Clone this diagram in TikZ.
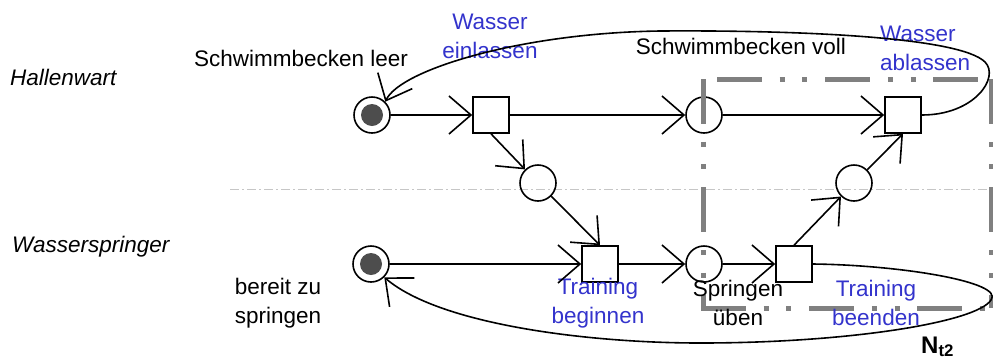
\documentclass[tikz,border=0pt]{standalone}
\usepackage{fontspec}
\setmainfont{Liberation Sans}
\usetikzlibrary{arrows.meta}
\definecolor{lblblue}{RGB}{51,51,204}
\definecolor{boxgray}{RGB}{128,128,128}
\definecolor{tokgray}{RGB}{77,77,77}
\begin{document}
\begin{tikzpicture}[x=1pt,y=-1pt,
  place/.style={circle,draw,line width=1.6pt,minimum size=36pt,inner sep=0pt},
  trans/.style={rectangle,draw,line width=1.6pt,minimum size=36pt,inner sep=0pt},
  arc/.style={line width=1.6pt,-{Straight Barb[length=22pt,width=38pt,line width=1.6pt]}},
  lbl/.style={font=\fontsize{22.5}{29}\selectfont,align=center,inner sep=0pt},
  bl/.style={lbl,text=lblblue},
  role/.style={font=\fontsize{22.5}{29}\selectfont\itshape,inner sep=0pt,anchor=west},
  token/.style={fill=tokgray},
  region/.style={boxgray,line width=5pt,dash pattern=on 45pt off 17.7pt on 5pt off 17.7pt on 5pt off 17.7pt}]
\useasboundingbox (0,0) rectangle (993,360);
\draw[gray!45,line width=0.8pt,dash pattern=on 9pt off 3pt on 2pt off 3pt] (230,189) -- (993,189);
% places and transitions
\node[place] (p1) at (372,115) {};
\node[trans] (t1) at (491,115) {};
\node[place] (pm1) at (538,183) {};
\node[place] (p2) at (704,115) {};
\node[trans] (t4) at (903,115) {};
\node[place] (pm2) at (854,183) {};
\node[place] (p3) at (371,264) {};
\node[trans] (t2) at (600,264) {};
\node[place] (p4) at (704,264) {};
\node[trans] (t3) at (794,264) {};
\fill[token] (p1.center) circle [radius=11];
\fill[token] (p3.center) circle [radius=11];
% region
\draw[region] (703,79) -- (703,308);
\draw[region] (701,308) -- (991,308);
\draw[region] (717,79) -- (991,79);
\draw[region] (991,79) -- (991,308);
% labels
\node[role] (hw) at (10,77) {Hallenwart};
\node[role] (ws) at (12,247) {Wasserspringer};
\node[lbl] (lp1) at (301,58) {Schwimmbecken leer};
\node[bl] (lt1) at (490,36) {Wasser\\einlassen};
\node[lbl] (lp2) at (741,46) {Schwimmbecken voll};
\node[bl,align=left,anchor=west] (lt4) at (880,48) {Wasser\\ablassen};
\node[lbl] (lp3) at (278,303) {bereit zu\\springen};
\node[bl] (lt2) at (598,303) {Training\\beginnen};
\node[lbl] (lp4) at (738,303) {Springen\\üben};
\node[bl] (lt3) at (876,303) {Training\\beenden};
\node[font=\fontsize{24}{26}\selectfont\bfseries,inner sep=0pt,anchor=base west] (nt) at (921,353) {N\textsubscript{t2}};
% arcs
\draw[arc] (p1) -- (t1);
\draw[arc] (t1) -- (p2);
\draw[arc] (t1.south) -- (pm1);
\draw[arc] (pm1) -- (t2.north);
\draw[arc] (p2) -- (t4);
\draw[arc] (pm2) -- (t4.south);
\draw[arc] (p3) -- (t2);
\draw[arc] (t2) -- (p4);
\draw[arc] (p4) -- (t3);
\draw[arc] (t3.north) -- (pm2);
\draw[arc] (t4.east) .. controls (975,115) and (1000,77) .. (985,62)
  .. controls (960,37) and (800,30) .. (660,31)
  .. controls (520,33) and (400,70) .. (p1.north east);
\draw[arc] (t3.east) .. controls (900,265) and (1005,282) .. (991,300)
  .. controls (977,322) and (850,343) .. (700,343)
  .. controls (590,343) and (440,325) .. (p3.south east);
\end{tikzpicture}
\end{document}
